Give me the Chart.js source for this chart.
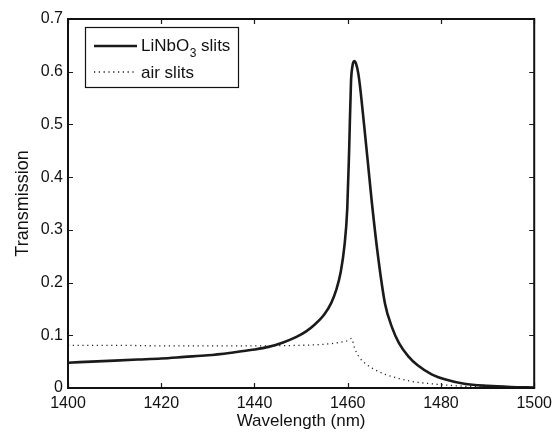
<!DOCTYPE html>
<html>
<head>
<meta charset="utf-8">
<script src="https://cdn.jsdelivr.net/npm/chart.js@4.4.1/dist/chart.umd.min.js"></script>
<style>
  html, body { margin: 0; padding: 0; background: #fff; }
  #c { display: block; }
</style>
</head>
<body>
<canvas id="c" width="558" height="435"></canvas>
<script>
// ---- Data ----
const lnbWavelength = [1400,1405,1410,1415,1420,1425,1430,1435,1440,1443,1446,1449,1451,1453,1455,1456.5,1457.5,1458.5,1459.3,1459.9,1460.3,1460.7,1461,1461.4,1461.8,1462.3,1462.8,1463.5,1464.3,1465.2,1466.5,1468,1469.5,1471,1473,1475,1478,1481,1485,1490,1495,1500];
const lnbTransmission = [0.048,0.050,0.052,0.054,0.056,0.059,0.062,0.067,0.073,0.078,0.086,0.097,0.107,0.121,0.140,0.162,0.185,0.22,0.27,0.34,0.45,0.58,0.61,0.62,0.615,0.595,0.56,0.50,0.43,0.35,0.25,0.16,0.115,0.085,0.060,0.043,0.026,0.016,0.008,0.004,0.002,0.001];

const airWavelength = [1400,1410,1420,1430,1440,1450,1455,1458,1460,1460.8,1461.5,1462.5,1464,1466,1468,1471,1474,1478,1482,1486,1490,1495,1500];
const airTransmission = [0.081,0.081,0.080,0.080,0.080,0.081,0.083,0.086,0.090,0.094,0.075,0.058,0.045,0.034,0.026,0.018,0.012,0.008,0.005,0.003,0.002,0.001,0.0005];

const xTicks = [1400,1420,1440,1460,1480,1500];
const yTicks = [0,0.1,0.2,0.3,0.4,0.5,0.6,0.7];

const seriesNames = ['LiNbO', 'air slits'];
const xTitle = 'Wavelength (nm)';
const yTitle = 'Transmission';

const FONT = '"Liberation Sans", Arial, Helvetica, sans-serif';

function pts(xs, ys) { return xs.map((x, i) => ({ x: x, y: ys[i] })); }

// Frame + inward ticks on all sides
const framePlugin = {
  id: 'frame',
  afterDraw(chart) {
    const { ctx, chartArea: a, scales } = chart;
    ctx.save();
    ctx.strokeStyle = '#1a1a1a';
    ctx.lineWidth = 1.2;
    const L = 5;
    ctx.beginPath();
    xTicks.forEach(v => {
      const px = Math.round(scales.x.getPixelForValue(v)) + 0.5;
      ctx.moveTo(px, a.bottom); ctx.lineTo(px, a.bottom - L);
      ctx.moveTo(px, a.top); ctx.lineTo(px, a.top + L);
    });
    yTicks.forEach(v => {
      const py = Math.round(scales.y.getPixelForValue(v)) + 0.5;
      ctx.moveTo(a.left, py); ctx.lineTo(a.left + L, py);
      ctx.moveTo(a.right, py); ctx.lineTo(a.right - L, py);
    });
    ctx.stroke();
    ctx.lineWidth = 2;
    ctx.strokeStyle = '#111';
    ctx.strokeRect(a.left, a.top, a.right - a.left, a.bottom - a.top);
    ctx.restore();
  }
};

// Legend box with subscript
const legendPlugin = {
  id: 'customLegend',
  afterDraw(chart) {
    const { ctx, chartArea: a } = chart;
    const bx = a.left + 17, by = a.top + 8, bw = 153, bh = 60;
    ctx.save();
    ctx.fillStyle = '#fff';
    ctx.fillRect(bx, by, bw, bh);
    ctx.strokeStyle = '#111';
    ctx.lineWidth = 1.2;
    ctx.strokeRect(bx + 0.5, by + 0.5, bw, bh);

    ctx.strokeStyle = '#1a1a1a';
    ctx.lineWidth = 2.6;
    ctx.beginPath();
    ctx.moveTo(bx + 9, by + 19); ctx.lineTo(bx + 52, by + 19);
    ctx.stroke();
    ctx.lineWidth = 1.3;
    ctx.setLineDash([1.2, 3.6]);
    ctx.beginPath();
    ctx.moveTo(bx + 9, by + 45); ctx.lineTo(bx + 50, by + 45);
    ctx.stroke();
    ctx.setLineDash([]);

    ctx.fillStyle = '#111';
    ctx.textBaseline = 'alphabetic';
    ctx.font = '17px ' + FONT;
    let tx = bx + 56;
    ctx.fillText(seriesNames[0], tx, by + 24);
    tx += ctx.measureText(seriesNames[0]).width;
    ctx.font = '12px ' + FONT;
    ctx.fillText('3', tx + 0.5, by + 30);
    tx += ctx.measureText('3').width + 0.5;
    ctx.font = '17px ' + FONT;
    ctx.fillText(' slits', tx, by + 24);
    ctx.fillText(seriesNames[1], bx + 56, by + 51);
    ctx.restore();
  }
};

new Chart(document.getElementById('c'), {
  type: 'line',
  data: {
    datasets: [
      {
        label: 'LiNbO3 slits',
        data: pts(lnbWavelength, lnbTransmission),
        borderColor: '#1a1a1a',
        borderWidth: 2.6,
        pointRadius: 0,
        fill: false,
        cubicInterpolationMode: 'monotone'
      },
      {
        label: 'air slits',
        data: pts(airWavelength, airTransmission),
        borderColor: '#222',
        borderWidth: 1.3,
        borderDash: [1.2, 3.6],
        pointRadius: 0,
        fill: false,
        cubicInterpolationMode: 'monotone'
      }
    ]
  },
  options: {
    responsive: false,
    devicePixelRatio: 1,
    animation: false,
    layout: { padding: { top: 19, right: 21, left: 0, bottom: 0 } },
    plugins: { legend: { display: false }, tooltip: { enabled: false } },
    scales: {
      x: {
        type: 'linear',
        min: 1400, max: 1500,
        afterBuildTicks(s) { s.ticks = xTicks.map(v => ({ value: v })); },
        afterFit(s) { s.height = 47; },
        grid: { display: false, drawTicks: false },
        border: { display: false },
        ticks: { color: '#111', font: { family: FONT, size: 16 }, padding: 6, maxRotation: 0,
                 callback: v => String(v) },
        title: { display: true, text: xTitle, color: '#111', font: { family: FONT, size: 17 }, padding: { top: 0, bottom: 3 } }
      },
      y: {
        type: 'linear',
        min: 0, max: 0.7,
        afterBuildTicks(s) { s.ticks = yTicks.map(v => ({ value: v })); },
        afterFit(s) { s.width = 68; },
        grid: { display: false, drawTicks: false },
        border: { display: false },
        ticks: {
          color: '#111', font: { family: FONT, size: 16 }, padding: 5,
          callback: v => (v === 0 ? '0' : v.toFixed(1))
        },
        title: { display: true, text: yTitle, color: '#111', font: { family: FONT, size: 18 }, padding: { top: 12, bottom: 0 } }
      }
    }
  },
  plugins: [framePlugin, legendPlugin]
});
</script>
</body>
</html>
